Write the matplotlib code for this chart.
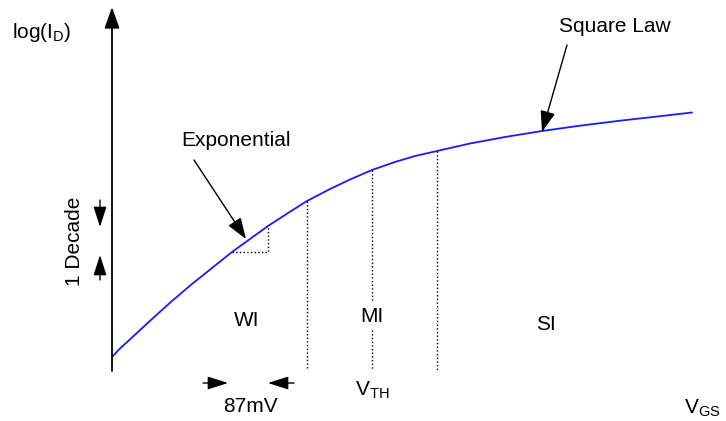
import numpy as np
import matplotlib.pyplot as plt
from matplotlib.patches import ArrowStyle

plt.rcParams['font.family'] = ['Liberation Sans', 'DejaVu Sans']
plt.rcParams['mathtext.fontset'] = 'custom'
plt.rcParams['mathtext.rm'] = 'Liberation Sans'

# curve (canvas units, y grows downward)
vgs = np.array([112, 120, 132, 152, 172, 192, 212, 232, 250, 268, 288, 307,
                330, 350, 372, 395, 415, 437, 470, 505, 542, 580, 620, 660, 692])
log_id = np.array([357, 348.5, 337.5, 319, 301, 284, 268, 252, 239, 226, 213, 201,
                   189, 179.5, 170, 162, 156, 151, 143.5, 137, 131, 125.7, 120.7, 116.2, 112.5])

# region boundaries (WI/MI, V_TH, MI/SI)
bounds_x = [307, 372, 437]
bounds_top = [201, 170, 151]
regions = ['WI', 'MI', 'SI']

x0, y0 = 112, 370  # origin of the axes

fig = plt.figure(figsize=(7.26, 4.21), dpi=100)
ax = fig.add_axes([0, 0, 1, 1])
ax.set_xlim(0, 726)
ax.set_ylim(421, 0)
ax.axis('off')

head = ArrowStyle('-|>', head_length=1.3, head_width=0.46)
small = ArrowStyle('-|>', head_length=1.25, head_width=0.4)

# axes with arrow heads
ax.annotate('', xy=(x0, 7), xytext=(x0, y0 + 1),
            arrowprops=dict(arrowstyle=head, mutation_scale=10, lw=1.3, color='black', shrinkA=0, shrinkB=0))
ax.annotate('', xy=(727, y0), xytext=(x0, y0),
            arrowprops=dict(arrowstyle=head, mutation_scale=10, lw=1.6, color='#4a4a4a', shrinkA=0, shrinkB=0))

# the curve
ax.plot(vgs, log_id, color='#1a1aff', lw=1.3, solid_capstyle='round', solid_joinstyle='round')

# dotted region boundaries
ax.plot([bounds_x[0]] * 2, [bounds_top[0], y0], 'k:', lw=1)
ax.plot([bounds_x[1]] * 2, [bounds_top[1], 302], 'k:', lw=1)
ax.plot([bounds_x[1]] * 2, [330, y0], 'k:', lw=1)
ax.plot([bounds_x[2]] * 2, [bounds_top[2], y0], 'k:', lw=1)

# slope triangle
ax.plot([232, 268, 268], [252, 252, 226], 'k:', lw=1)

fs = 15
ax.text(12, 32, r'log(I$_\mathrm{D}$)', fontsize=fs, ha='left', va='center')
ax.text(74, 241, '1 Decade', fontsize=fs, rotation=90, ha='center', va='center')
ax.text(236, 141, 'Exponential', fontsize=fs, ha='center', va='center')
ax.text(615, 26, 'Square Law', fontsize=fs, ha='center', va='center')
for rx, ry, name in zip([247, 372, 546], [320, 317, 324], regions):
    ax.text(rx, ry, name, fontsize=fs, ha='center', va='center')
ax.text(250, 407, '87mV', fontsize=fs, ha='center', va='center')
ax.text(372, 390, r'V$_\mathrm{TH}$', fontsize=fs, ha='center', va='center')
ax.text(702, 408, r'V$_\mathrm{GS}$', fontsize=fs, ha='center', va='center')

# pointers
ax.annotate('', xy=(246, 239), xytext=(194, 160),
            arrowprops=dict(arrowstyle=head, mutation_scale=10, lw=1, color='black', shrinkA=0, shrinkB=0))
ax.annotate('', xy=(542, 132), xytext=(567, 45),
            arrowprops=dict(arrowstyle=head, mutation_scale=10, lw=1, color='black', shrinkA=0, shrinkB=0))

# 87mV markers
ax.annotate('', xy=(228, 383), xytext=(203, 383),
            arrowprops=dict(arrowstyle=small, mutation_scale=10, lw=1, color='black', shrinkA=0, shrinkB=0))
ax.annotate('', xy=(268, 383), xytext=(294, 383),
            arrowprops=dict(arrowstyle=small, mutation_scale=10, lw=1, color='black', shrinkA=0, shrinkB=0))

# 1 decade markers
ax.annotate('', xy=(100, 227), xytext=(100, 200),
            arrowprops=dict(arrowstyle=small, mutation_scale=10, lw=1, color='black', shrinkA=0, shrinkB=0))
ax.annotate('', xy=(100, 255), xytext=(100, 280),
            arrowprops=dict(arrowstyle=small, mutation_scale=10, lw=1, color='black', shrinkA=0, shrinkB=0))

fig.savefig('out.png', dpi=100)
